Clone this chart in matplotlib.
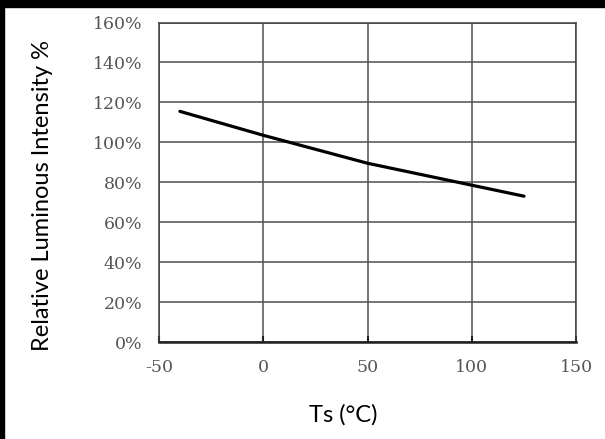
import matplotlib
matplotlib.use("Agg")
import matplotlib.pyplot as plt
from matplotlib.patches import Rectangle

# values
temps = [-40, 0, 25, 50, 75, 100, 125]
intensity = [115.5, 103.5, 96.5, 89.5, 84.0, 78.5, 73.0]

x_ticks = [-50, 0, 50, 100, 150]
x_tick_labels = ["-50", "0", "50", "100", "150"]
y_ticks = [0, 20, 40, 60, 80, 100, 120, 140, 160]
y_tick_labels = [f"{v}%" for v in y_ticks]

# a hair over 6.05 x 4.39 so the pixel size does not round down to 604x438
fig = plt.figure(figsize=(6.052, 4.392), dpi=100, facecolor="white")
ax = fig.add_axes([0.2628, 0.2210, 0.952 - 0.2628, 0.9483 - 0.2210])

ax.plot(temps, intensity, color="black", linewidth=2.3, solid_capstyle="round")

ax.set_xlim(-50, 150)
ax.set_ylim(0, 160)
ax.set_xticks(x_ticks)
ax.set_xticklabels(x_tick_labels)
ax.set_yticks(y_ticks)
ax.set_yticklabels(y_tick_labels)

ax.grid(True, color="#505050", linewidth=1.1)
ax.set_axisbelow(True)
for side in ["top", "right", "left"]:
    ax.spines[side].set_color("#404040")
    ax.spines[side].set_linewidth(1.1)
ax.spines["bottom"].set_color("#202020")
ax.spines["bottom"].set_linewidth(1.8)

ax.tick_params(axis="x", direction="in", length=4, width=1.5, color="#202020", pad=12)
ax.tick_params(axis="y", length=0, pad=12)
for lbl in ax.get_xticklabels() + ax.get_yticklabels():
    lbl.set_fontfamily("DejaVu Serif")
    lbl.set_fontsize(12.5)
    lbl.set_color("#555555")

fig.text(0.071, 0.556, "Relative Luminous Intensity %", rotation=90,
         ha="center", va="center", fontsize=17, family="Lato")
fig.text(0.567, 0.0547, "Ts (°C)", ha="center", va="center",
         fontsize=17, family="Lato")

# black frame pieces at the top and left edge
fig.patches.append(Rectangle((0, 1 - 7 / 439), 1, 7 / 439, transform=fig.transFigure,
                             color="black", zorder=10))
fig.patches.append(Rectangle((0, 0), 4 / 605, 1, transform=fig.transFigure,
                             color="black", zorder=10))

fig.savefig("out.png", dpi=100, facecolor="white")
